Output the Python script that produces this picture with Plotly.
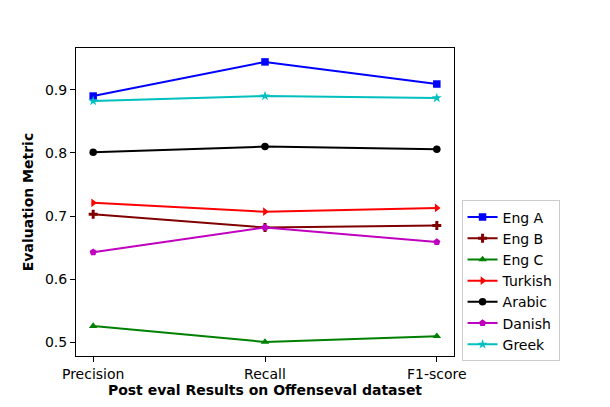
import plotly.graph_objects as go

categories = ["Precision", "Recall", "F1-score"]
eng_a = [0.890, 0.944, 0.909]
eng_b = [0.703, 0.682, 0.685]
eng_c = [0.526, 0.501, 0.510]
turkish = [0.721, 0.707, 0.713]
arabic = [0.801, 0.810, 0.806]
danish = [0.643, 0.682, 0.659]
greek = [0.882, 0.890, 0.887]

series = [
    ("Eng A", eng_a, "#0000ff", "square"),
    ("Eng B", eng_b, "#800000", "cross"),
    ("Eng C", eng_c, "#008000", "triangle-up"),
    ("Turkish", turkish, "#ff0000", "triangle-right"),
    ("Arabic", arabic, "#000000", "circle"),
    ("Danish", danish, "#bf00bf", "pentagon"),
    ("Greek", greek, "#00bfbf", "star"),
]

fig = go.Figure()
for name, vals, color, sym in series:
    fig.add_trace(go.Scatter(
        x=categories, y=vals, name=name, mode="lines+markers",
        line=dict(color=color, width=2),
        marker=dict(symbol=sym, size=7.5, color=color, line=dict(width=0)),
    ))

font = dict(family="DejaVu Sans", size=14, color="black")
fig.update_layout(
    width=602, height=399,
    margin=dict(l=68, r=156, t=40, b=51),
    paper_bgcolor="white", plot_bgcolor="white",
    font=font,
    showlegend=True,
    legend=dict(x=1.02, y=0.505, xanchor="left", yanchor="top",
                bordercolor="#cccccc", borderwidth=1, bgcolor="white",
                font=dict(family="DejaVu Sans", size=14, color="black"),
                tracegroupgap=0, itemwidth=30),
)
fig.update_xaxes(
    type="category", range=[-0.1, 2.1],
    showgrid=False, zeroline=False,
    showline=True, linecolor="black", linewidth=1, mirror=True,
    ticks="outside", ticklen=5, tickcolor="black",
    title=dict(text="<b>Post eval Results on Offenseval dataset</b>", standoff=2,
               font=dict(family="DejaVu Sans", size=14, color="black")),
)
fig.update_yaxes(
    range=[0.4787, 0.966],
    tickvals=[0.5, 0.6, 0.7, 0.8, 0.9], tickformat=".1f",
    showgrid=False, zeroline=False,
    showline=True, linecolor="black", linewidth=1, mirror=True,
    ticks="outside", ticklen=5, tickcolor="black",
    title=dict(text="<b>Evaluation Metric</b>", standoff=8,
               font=dict(family="DejaVu Sans", size=14, color="black")),
)

fig.write_html("out.html")
